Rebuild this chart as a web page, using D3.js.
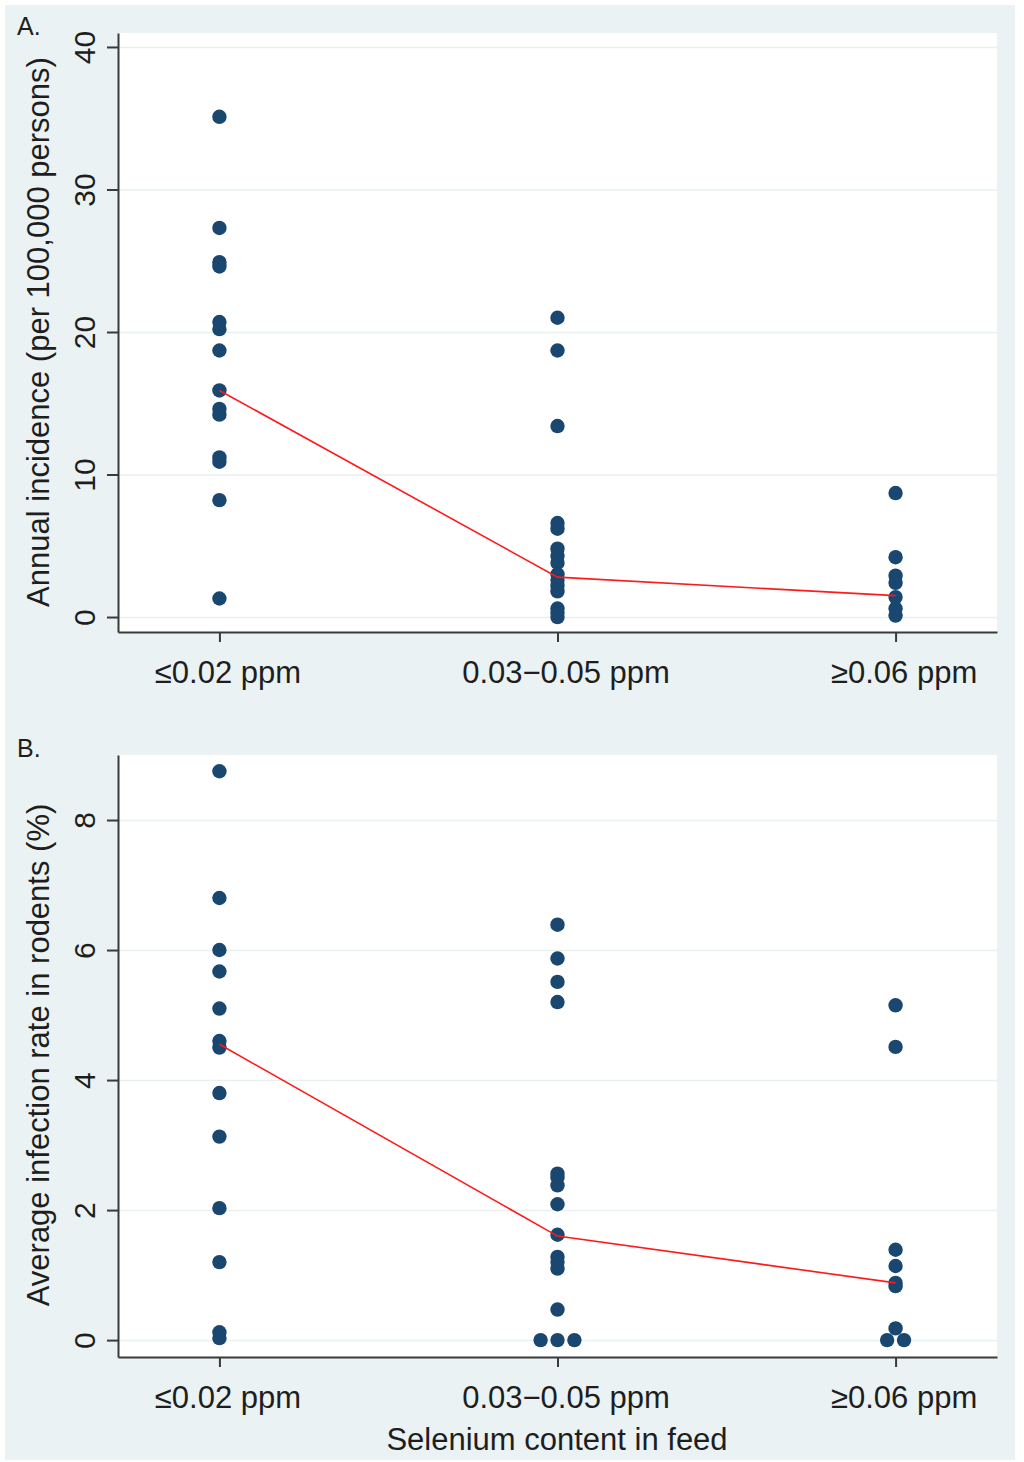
<!DOCTYPE html>
<html>
<head>
<meta charset="utf-8">
<script src="https://cdn.jsdelivr.net/npm/d3@7"></script>
<style>
  body { margin: 0; background: #fff; }
  svg { display: block; }
  text { font-family: "Liberation Sans", Arial, sans-serif; fill: #1e1e1e; }
</style>
</head>
<body>
<svg id="chart"></svg>
<script>
const categories = ["≤0.02 ppm", "0.03−0.05 ppm", "≥0.06 ppm"];

// panel A: annual incidence (per 100,000 persons)
const incidenceTicks = [0, 10, 20, 30, 40];
const incidenceLow = [35.1, 27.3, 24.9, 24.6, 20.7, 20.2, 18.7, 15.9, 14.6, 14.2, 11.2, 10.9, 8.2, 1.3];
const incidenceMid = [21.0, 18.7, 13.4, 6.6, 6.2, 4.8, 4.3, 3.8, 3.0, 2.6, 2.2, 1.8, 0.6, 0.3, 0.0];
const incidenceHigh = [8.7, 4.2, 2.9, 2.4, 1.4, 0.6, 0.1];
const incidenceMedian = [15.9, 2.8, 1.5];

// panel B: average infection rate in rodents (%)
const infectionTicks = [0, 2, 4, 6, 8];
const infectionLow = [8.75, 6.8, 6.0, 5.67, 5.1, 4.6, 4.5, 3.8, 3.13, 2.03, 1.2, 0.12, 0.03];
const infectionMid = [6.39, 5.87, 5.51, 5.2, 2.56, 2.5, 2.38, 2.09, 1.62, 1.28, 1.2, 1.1, 0.47];
const infectionHigh = [5.15, 4.51, 1.39, 1.14, 0.88, 0.83, 0.18];
const infectionMedian = [4.55, 1.6, 0.88];
// tied zeros drawn side by side: [category, shift, value]
const infectionTies = [[2, -0.05, 0], [2, 0, 0], [2, 0.05, 0], [3, -0.025, 0], [3, 0.025, 0]];

const width = 1024, height = 1462;
const left = 118, right = 997;
const navy = "#1a476f";

const svg = d3.select("#chart").attr("width", width).attr("height", height);

svg.append("rect")
  .attr("x", 5).attr("y", 5)
  .attr("width", 1010).attr("height", 1455)
  .attr("fill", "#eaf2f3");

function drawPanel(p) {
  const x = d3.scaleLinear().domain([0.7, 3.3]).range([left, right]);
  const y = d3.scaleLinear().domain(p.domain).range([p.bottom, p.top]);
  const g = svg.append("g");

  g.append("rect")
    .attr("x", left).attr("y", p.top)
    .attr("width", right - left).attr("height", p.bottom - p.top)
    .attr("fill", "#fff");

  // grid
  const grid = g.append("g")
    .attr("transform", `translate(${left},0)`)
    .call(d3.axisLeft(y).tickValues(p.ticks).tickSize(-(right - left)).tickFormat(""));
  grid.select(".domain").remove();
  grid.selectAll("line").attr("stroke", "#e9f0f2").attr("stroke-width", 1.5);

  // points
  const pts = [];
  p.values.forEach((vals, i) => vals.forEach(v => pts.push([i + 1, v])));
  (p.ties || []).forEach(t => pts.push([t[0] + t[1], t[2]]));

  g.selectAll("circle.pt")
    .data(pts)
    .enter()
    .append("circle")
    .attr("class", "pt")
    .attr("cx", d => x(d[0]))
    .attr("cy", d => y(d[1]))
    .attr("r", 7.2)
    .attr("fill", navy);

  // median line
  const line = d3.line()
    .x((d, i) => x(i + 1))
    .y(d => y(d));

  g.append("path")
    .attr("d", line(p.median))
    .attr("fill", "none")
    .attr("stroke", "#ff1a1a")
    .attr("stroke-width", 1.6);

  // y axis
  const ya = g.append("g")
    .attr("transform", `translate(${left},0)`)
    .call(d3.axisLeft(y).tickValues(p.ticks).tickSize(11).tickSizeOuter(0));
  ya.select(".domain").attr("stroke", "#3a3a3a").attr("stroke-width", 2);
  ya.selectAll("line").attr("stroke", "#3a3a3a").attr("stroke-width", 2);
  ya.selectAll("text")
    .attr("transform", "rotate(-90)")
    .attr("x", 0).attr("y", -23).attr("dy", 0)
    .attr("text-anchor", "middle")
    .attr("font-size", 30)
    .attr("fill", "#1e1e1e");

  // x axis
  const xa = g.append("g")
    .attr("transform", `translate(0,${p.bottom})`)
    .call(d3.axisBottom(x).tickValues([1, 2, 3]).tickFormat((d, i) => categories[i]).tickSize(10).tickSizeOuter(0));
  xa.select(".domain").attr("stroke", "#3a3a3a").attr("stroke-width", 2);
  xa.selectAll("line").attr("stroke", "#3a3a3a").attr("stroke-width", 2);
  xa.selectAll("text")
    .attr("y", 51).attr("dy", 0).attr("dx", 8)
    .attr("font-size", 31)
    .attr("fill", "#1e1e1e");

  // y title
  g.append("text")
    .attr("transform", `translate(49,${p.titleY}) rotate(-90)`)
    .attr("text-anchor", "middle")
    .attr("font-size", 31)
    .text(p.title);

  // panel letter
  g.append("text")
    .attr("x", 17).attr("y", p.top + 2)
    .attr("font-size", 25)
    .text(p.letter);
}

drawPanel({
  letter: "A.",
  top: 33, bottom: 632,
  domain: [-1.05, 40.98],
  ticks: incidenceTicks,
  values: [incidenceLow, incidenceMid, incidenceHigh],
  median: incidenceMedian,
  title: "Annual incidence (per 100,000 persons)",
  titleY: 332
});

drawPanel({
  letter: "B.",
  top: 755, bottom: 1357,
  domain: [-0.26, 9.0],
  ticks: infectionTicks,
  values: [infectionLow, infectionMid, infectionHigh],
  ties: infectionTies,
  median: infectionMedian,
  title: "Average infection rate in rodents (%)",
  titleY: 1055
});

svg.append("text")
  .attr("x", 557)
  .attr("y", 1450)
  .attr("text-anchor", "middle")
  .attr("font-size", 31)
  .text("Selenium content in feed");
</script>
</body>
</html>
